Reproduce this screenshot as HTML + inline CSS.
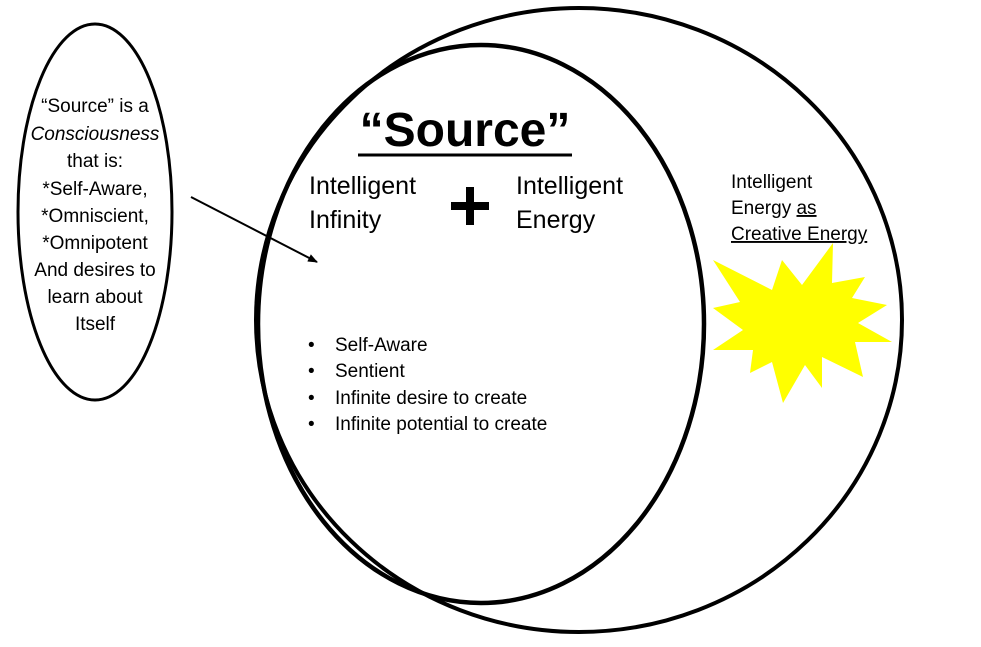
<!DOCTYPE html>
<html><head><meta charset="utf-8"><style>
body{margin:0;background:#fff;}
svg text{font-family:"Liberation Sans",sans-serif;}
</style></head><body>
<svg width="981" height="642" viewBox="0 0 981 642" xmlns="http://www.w3.org/2000/svg">
<defs><marker id="a" markerWidth="10" markerHeight="8" refX="9" refY="4" orient="auto" markerUnits="userSpaceOnUse"><path d="M0,0 L10,4 L0,8 z" fill="#000"/></marker></defs>
<ellipse cx="95" cy="212" rx="77" ry="188" fill="none" stroke="#000" stroke-width="3"/>
<ellipse cx="579" cy="320" rx="323" ry="312" fill="none" stroke="#000" stroke-width="4"/>
<ellipse cx="481" cy="324" rx="223" ry="279" fill="none" stroke="#000" stroke-width="4.5"/>
<line x1="191" y1="197" x2="317" y2="262" stroke="#000" stroke-width="2" marker-end="url(#a)"/>
<polygon fill="#ffff00" points="713,260 772,290 782,260 802,285 833,243 832,283 865,277 852,298 887,305 858,323 892,342 855,342 863,377 822,357 822,388 805,365 783,403 772,362 750,373 753,350 713,350 743,330 713,308 740,302"/>
<g font-size="19" text-anchor="middle">
<text x="95" y="112">“Source” is a</text>
<text x="95" y="140" font-style="italic">Consciousness</text>
<text x="95" y="167">that is:</text>
<text x="95" y="195">*Self-Aware,</text>
<text x="95" y="222">*Omniscient,</text>
<text x="95" y="249">*Omnipotent</text>
<text x="95" y="276">And desires to</text>
<text x="95" y="303">learn about</text>
<text x="95" y="330">Itself</text>
</g>
<text x="465" y="146" font-size="48" font-weight="bold" text-anchor="middle">“Source”</text>
<line x1="358" y1="155" x2="572" y2="155" stroke="#000" stroke-width="3"/>
<g font-size="25">
<text x="309" y="194">Intelligent</text>
<text x="309" y="228">Infinity</text>
<text x="516" y="194">Intelligent</text>
<text x="516" y="228">Energy</text>
</g>
<rect x="466" y="187" width="8" height="38" fill="#000"/>
<rect x="451" y="202" width="38" height="8" fill="#000"/>
<g font-size="19">
<text x="731" y="188">Intelligent</text>
<text x="731" y="214">Energy <tspan text-decoration="underline">as</tspan></text>
<text x="731" y="240" text-decoration="underline">Creative Energy</text>
</g>
<g font-size="19">
<text x="308" y="351">•</text><text x="335" y="351">Self-Aware</text>
<text x="308" y="377">•</text><text x="335" y="377">Sentient</text>
<text x="308" y="404">•</text><text x="335" y="404">Infinite desire to create</text>
<text x="308" y="430">•</text><text x="335" y="430">Infinite potential to create</text>
</g>
</svg>
</body></html>
